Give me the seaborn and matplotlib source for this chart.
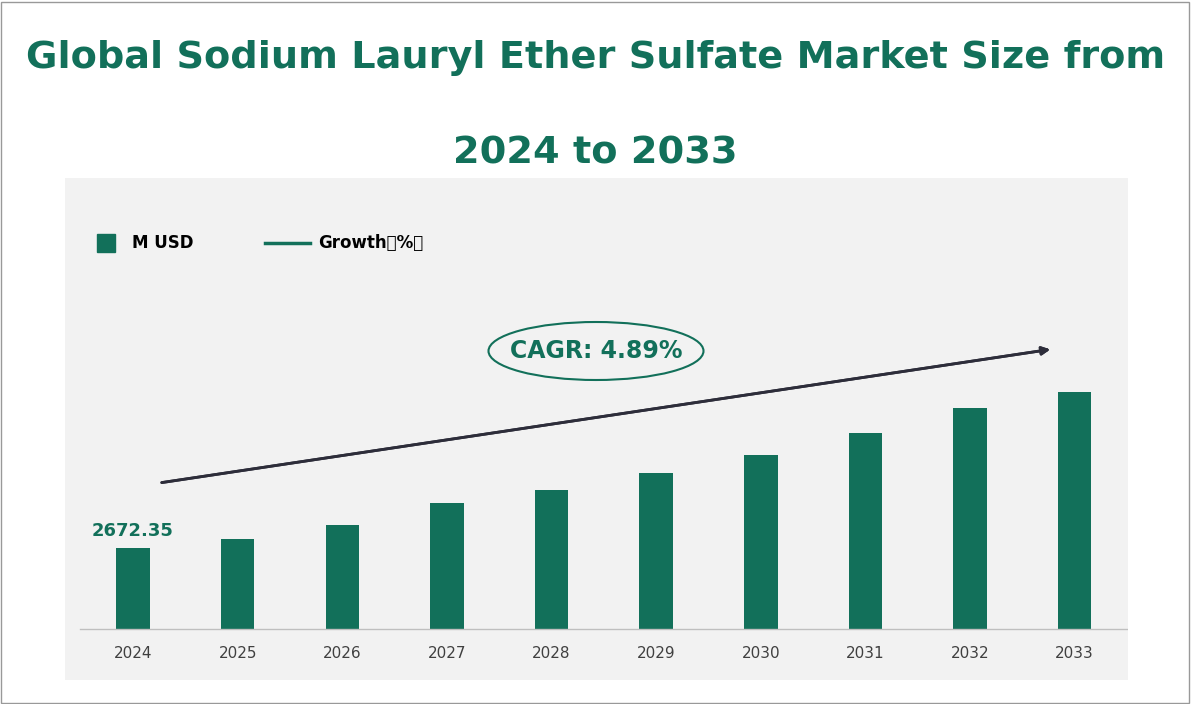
import pandas as pd
import seaborn as sns
import matplotlib.pyplot as plt
from matplotlib.patches import Ellipse, Rectangle
from matplotlib.lines import Line2D

years = ['2024', '2025', '2026', '2027', '2028', '2029', '2030', '2031', '2032', '2033']
market_size = [2672.35, 2755, 2884, 3087, 3207, 3363, 3529, 3732, 3963, 4110]

GREEN = '#12705a'
W, H = 1191, 704
base = 1925          # value where bars start (baseline)
per_px = 9.22        # value units per pixel

df = pd.DataFrame({'Year': years, 'Value': [v - base for v in market_size]})

fig = plt.figure(figsize=(W / 100, H / 100), dpi=100)
fig.patches.append(Rectangle((1 / W, 1 / H), 1 - 3 / W, 1 - 3 / H, transform=fig.transFigure,
                             fill=False, edgecolor='#999999', lw=1))

ax = fig.add_axes([65 / W, 24 / H, (1128 - 65) / W, (680 - 178) / H])
ax.set_facecolor('#f2f2f2')
sns.barplot(data=df, x='Year', y='Value', color=GREEN, width=0.32, saturation=1, ax=ax)
ax.set_ylim(-51 * per_px, 451 * per_px)
ax.set_xlim(-0.65, 9.51)
ax.axhline(0, xmin=15 / 1063, xmax=1, color='#bfbfbf', lw=1)
for s in ax.spines.values():
    s.set_visible(False)
ax.set_yticks([])
ax.set_xticks([])
ax.set_xlabel('')
ax.set_ylabel('')
for i, y in enumerate(years):
    ax.text(i, -25 * per_px, y, ha='center', va='center', fontsize=11, color='#404040')
ax.text(0, df['Value'][0] + 8 * per_px, f'{market_size[0]:.2f}', ha='center', va='bottom',
        color=GREEN, fontsize=13, fontweight='bold')

def fx(x): return x / W
def fy(y): return 1 - y / H

fig.text(0.5, fy(58), 'Global Sodium Lauryl Ether Sulfate Market Size from', ha='center', va='center',
         color=GREEN, fontsize=27.5, fontweight='bold')
fig.text(0.5, fy(153), '2024 to 2033', ha='center', va='center',
         color=GREEN, fontsize=27.5, fontweight='bold')

# legend
fig.patches.append(Rectangle((fx(97), fy(252)), 18 / W, 18 / H, transform=fig.transFigure, color=GREEN))
fig.text(fx(132), fy(243), 'M USD', va='center', fontsize=12, fontweight='bold')
fig.lines.append(Line2D([fx(265), fx(310)], [fy(243), fy(243)], transform=fig.transFigure, color=GREEN, lw=2.5))
fig.text(fx(318), fy(243), 'Growth（%）', va='center', fontsize=12, fontweight='bold',
         fontfamily='Noto Sans CJK SC')

# CAGR arrow + ellipse
fig.add_artist(plt.annotate('', xy=(fx(1053), fy(349)), xytext=(fx(159), fy(483)),
                            xycoords='figure fraction', textcoords='figure fraction',
                            arrowprops=dict(arrowstyle='-|>', color='#2d2d3a', lw=2, mutation_scale=12)))
fig.patches.append(Ellipse((fx(596), fy(351)), 215 / W, 58 / H, transform=fig.transFigure,
                           fill=False, edgecolor=GREEN, lw=1.5))
fig.text(fx(596), fy(351), 'CAGR: 4.89%', ha='center', va='center', color=GREEN, fontsize=17, fontweight='bold')

fig.savefig('out.png', dpi=100)
